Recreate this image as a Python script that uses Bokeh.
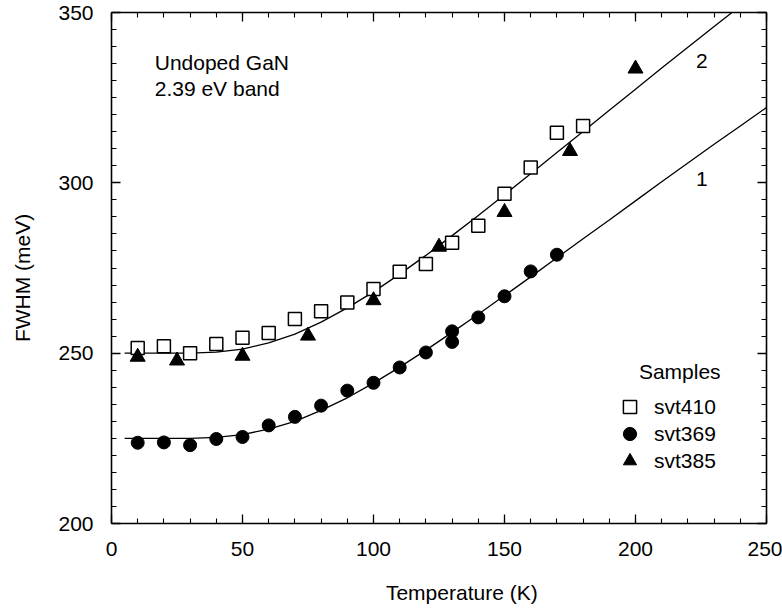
import numpy as np
from bokeh.plotting import figure
from bokeh.models import (LinearAxis, Range1d, Label, Legend, LegendItem,
                          SingleIntervalTicker, CustomLabelingPolicy)
from bokeh.embed import file_html
from bokeh.resources import INLINE

# ---- data ----
temp_svt410 = [10, 20, 30, 40, 50, 60, 70, 80, 90, 100, 110, 120, 130, 140, 150, 160, 170, 180]
fwhm_svt410 = [251.5, 252.0, 250.0, 252.7, 254.5, 255.9, 260.0, 262.3, 264.9, 268.8,
               273.9, 276.2, 282.4, 287.4, 296.8, 304.5, 314.7, 316.7]

temp_svt369 = [10, 20, 30, 40, 50, 60, 70, 80, 90, 100, 110, 120, 130, 130, 140, 150, 160, 170]
fwhm_svt369 = [223.7, 223.8, 223.0, 224.8, 225.4, 228.8, 231.3, 234.6, 239.0, 241.3,
               245.8, 250.2, 253.3, 256.4, 260.5, 266.7, 274.0, 278.9]

temp_svt385 = [10, 25, 50, 75, 100, 125, 150, 175, 200]
fwhm_svt385 = [248.9, 247.8, 249.2, 255.1, 265.5, 281.2, 291.4, 309.3, 333.5]

# fitted curves
temp_curve1 = [5, 10, 20, 30, 40, 50, 60, 70, 80, 90, 100, 110, 120, 130, 140, 150,
               160, 170, 180, 190, 200, 210, 220, 230, 240, 250]
fwhm_curve1 = [225.0, 225.0, 225.0, 225.0, 225.3, 226.1, 227.7, 230.0, 233.2, 236.9,
               241.2, 245.9, 250.9, 256.1, 261.4, 266.9, 272.4, 278.0, 283.6, 289.1,
               294.7, 300.3, 305.8, 311.3, 316.7, 322.1]
temp_curve2 = [5, 10, 20, 30, 40, 50, 60, 70, 80, 90, 100, 110, 120, 130, 140, 150,
               160, 170, 180, 190, 200, 210, 220, 230, 240]
fwhm_curve2 = [250.0, 250.0, 250.0, 250.0, 250.3, 251.2, 253.0, 255.6, 259.1, 263.3,
               268.0, 273.2, 278.7, 284.5, 290.4, 296.5, 302.7, 308.9, 315.1, 321.3,
               327.5, 333.7, 339.8, 345.9, 351.9]

legend_labels = ["svt410", "svt369", "svt385"]
x_ticks_major = 50
y_ticks_major = 50

FONT = "Liberation Sans"
FS = "21px"

p = figure(width=782, height=608, output_backend="svg", toolbar_location=None,
           x_range=Range1d(0, 250), y_range=Range1d(200, 350),
           min_border_left=111, min_border_right=16, min_border_top=12, min_border_bottom=85,
           x_axis_location=None, y_axis_location=None)
p.xgrid.visible = False
p.ygrid.visible = False
p.outline_line_color = None
p.background_fill_color = "white"
p.border_fill_color = "white"

xt = SingleIntervalTicker(interval=x_ticks_major, num_minor_ticks=5)
yt = SingleIntervalTicker(interval=y_ticks_major, num_minor_ticks=10)

no_labels = CustomLabelingPolicy(code="""
for (const i of indices) { indices.unset(i) }
return indices
""")


def style_axis(ax, show_labels):
    ax.major_tick_in = 9
    ax.major_tick_out = 0
    ax.minor_tick_in = 5
    ax.minor_tick_out = 0
    ax.axis_line_width = 1.6
    ax.axis_line_color = "black"
    ax.major_tick_line_width = 1.3
    ax.minor_tick_line_width = 1.1
    ax.major_tick_line_color = "black"
    ax.minor_tick_line_color = "black"
    if show_labels:
        ax.major_label_text_font = FONT
        ax.major_label_text_font_size = FS
        ax.major_label_text_color = "black"
    else:
        ax.major_label_text_font_size = "0px"
        ax.major_label_standoff = 0
        ax.major_label_policy = no_labels


ax_b = LinearAxis(ticker=xt)
style_axis(ax_b, True)
ax_b.major_label_standoff = 18
ax_l = LinearAxis(ticker=yt)
style_axis(ax_l, True)
ax_l.major_label_standoff = 18
ax_t = LinearAxis(ticker=xt)
style_axis(ax_t, False)
ax_r = LinearAxis(ticker=yt)
style_axis(ax_r, False)
p.add_layout(ax_b, "below")
p.add_layout(ax_l, "left")
p.add_layout(ax_t, "above")
p.add_layout(ax_r, "right")

# axis titles: labels living in the side panels (not clipped to the frame)
p.add_layout(Label(x=133.7, y=179.6, text="Temperature (K)", text_font=FONT,
                   text_font_size=FS, text_color="black",
                   text_baseline="middle", text_align="center"), "below")
p.add_layout(Label(x=-33.9, y=272.1, text="FWHM (meV)", text_font=FONT,
                   text_font_size=FS, text_color="black", angle=np.pi / 2,
                   text_baseline="middle", text_align="center"), "left")

# curves
p.line(temp_curve2, fwhm_curve2, line_color="black", line_width=1.3)
p.line(temp_curve1, fwhm_curve1, line_color="black", line_width=1.3)

# data
r_sq = p.scatter(temp_svt410, fwhm_svt410, marker="square", size=13,
                 fill_color="white", line_color="black", line_width=1.5)
r_ci = p.scatter(temp_svt369, fwhm_svt369, marker="circle", size=13,
                 fill_color="black", line_color="black")
r_tr = p.scatter(temp_svt385, fwhm_svt385, marker="triangle", size=15,
                 fill_color="black", line_color="black")

# one legend per entry so the rows can sit 27 px apart with full-size markers
legend_bottoms = [100, 73, 46]
for lbl, rend, yb in zip(legend_labels, [r_sq, r_ci, r_tr], legend_bottoms):
    lg = Legend(items=[LegendItem(label=lbl, renderers=[rend])],
                location=(502, yb), glyph_width=33, glyph_height=33, spacing=0,
                label_standoff=8, padding=0, margin=0, label_height=33,
                border_line_color=None, background_fill_alpha=0,
                label_text_font=FONT, label_text_font_size=FS, label_text_color="black")
    p.add_layout(lg)


def lab(x, y, text, **kw):
    p.add_layout(Label(x=x, y=y, text=text, text_font=FONT, text_font_size=FS,
                       text_color="black", **kw))


lab(201.3, 244.7, "Samples", text_baseline="middle", text_align="left")
lab(16.5, 335.2, "Undoped GaN", text_baseline="middle", text_align="left")
lab(16.5, 327.8, "2.39 eV band", text_baseline="middle", text_align="left")
lab(225.3, 335.7, "2", text_baseline="middle", text_align="center")
lab(225.3, 301.0, "1", text_baseline="middle", text_align="center")

open("out.html", "w").write(file_html(p, INLINE))
